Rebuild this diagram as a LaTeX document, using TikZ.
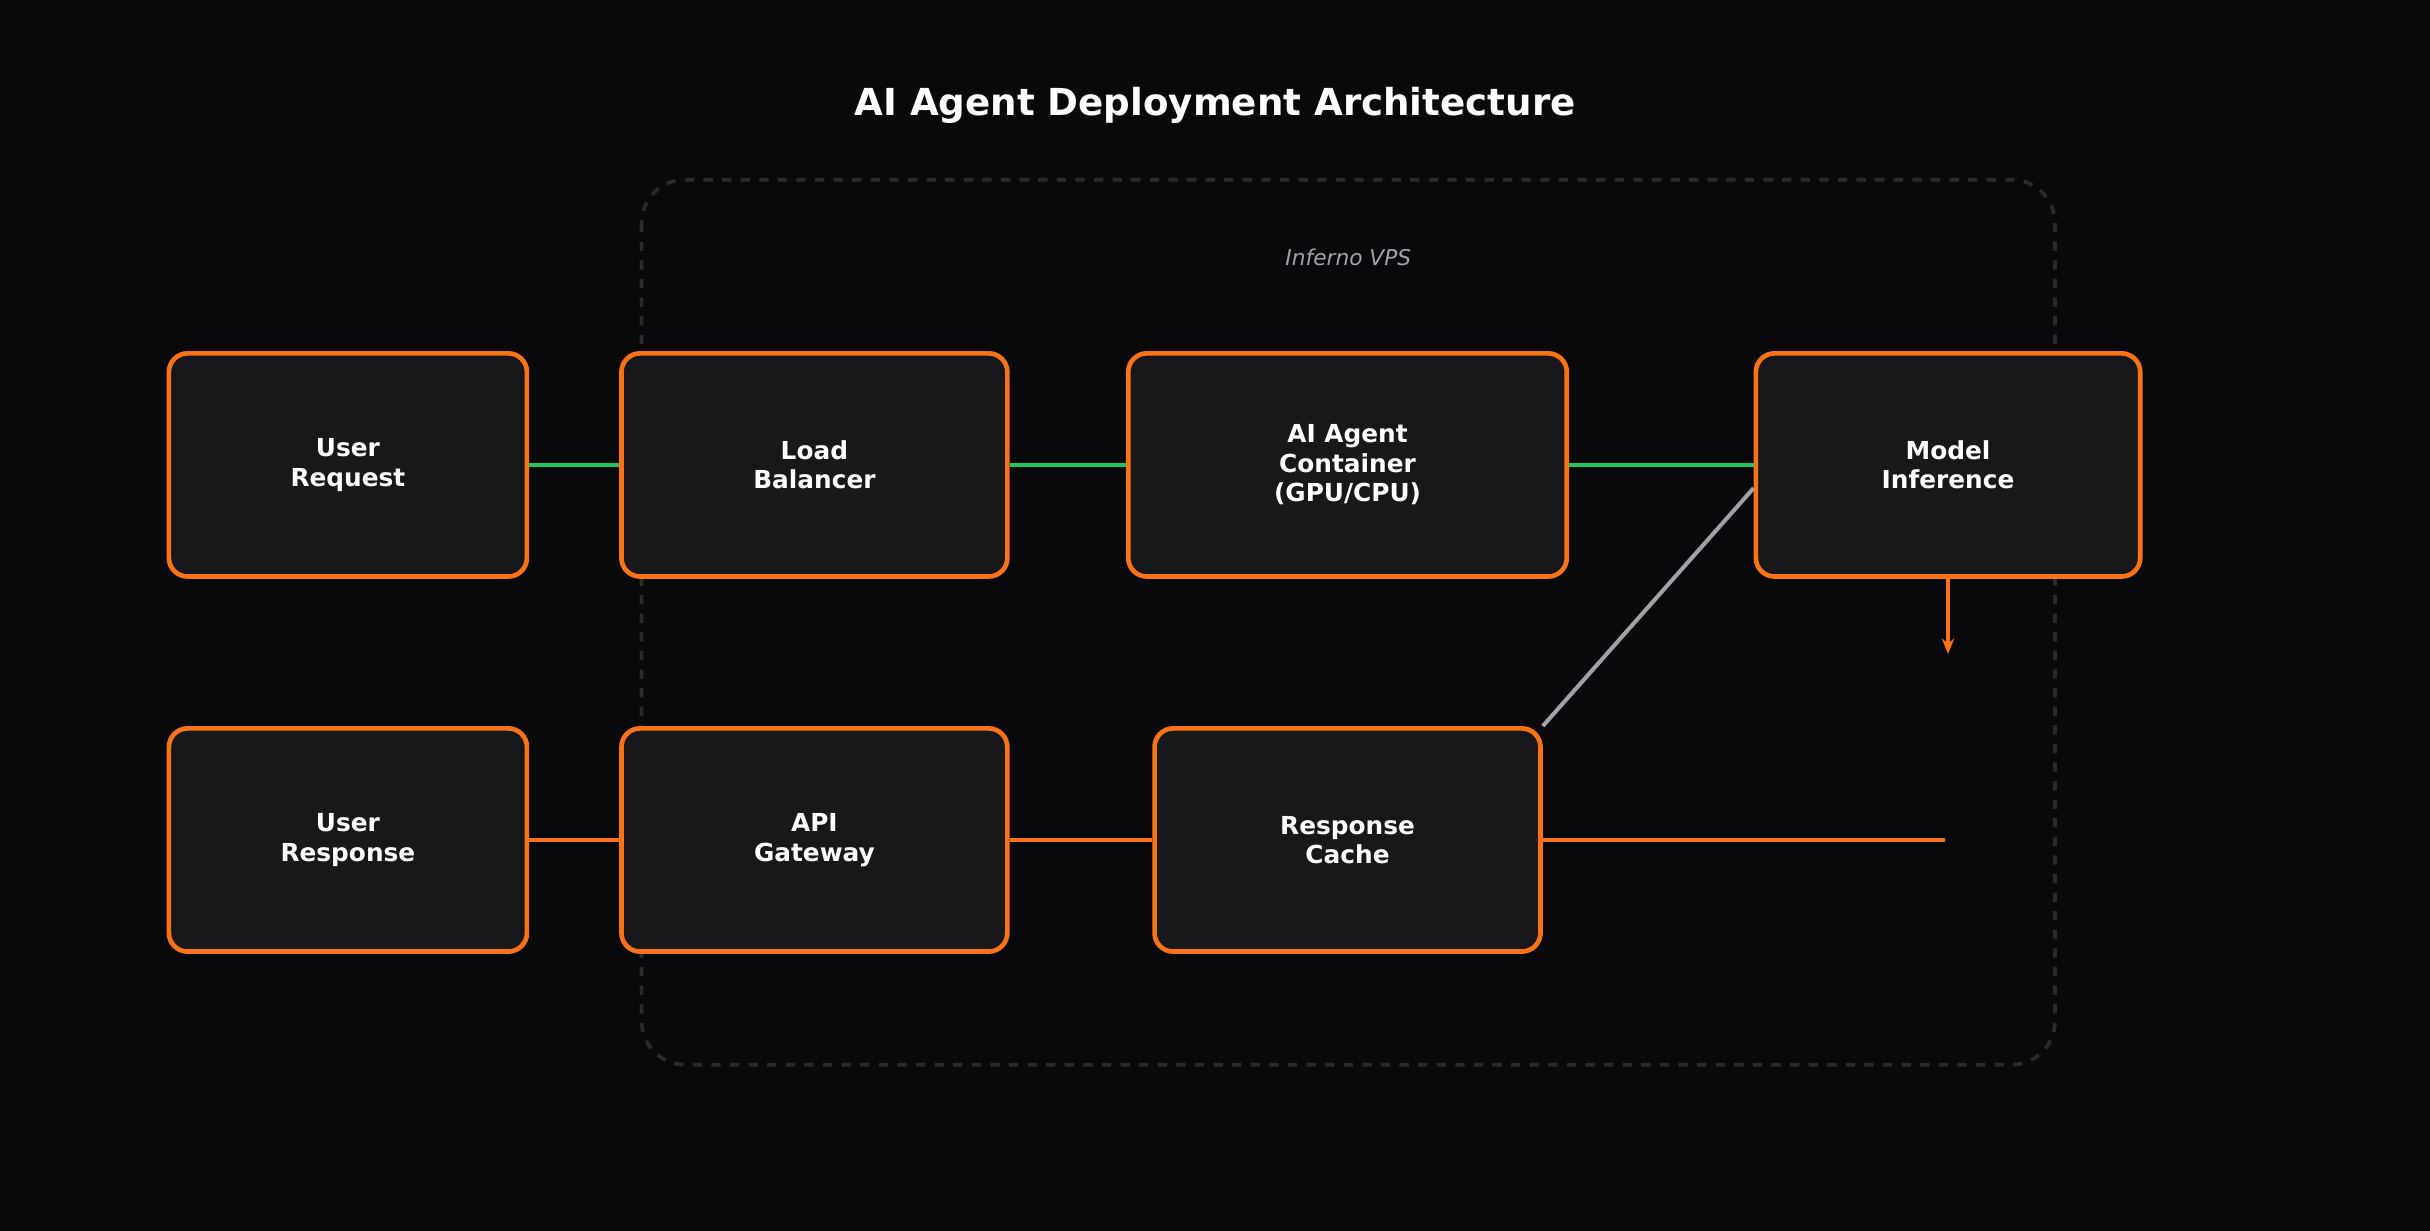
\documentclass[tikz,border=0pt]{standalone}
\usepackage{fontspec}
\setmainfont{DejaVu Sans}
\usetikzlibrary{arrows.meta,calc}
\definecolor{bg}{HTML}{09090B}
\definecolor{nodefill}{HTML}{18181B}
\definecolor{org}{HTML}{F97316}
\definecolor{grn}{HTML}{22C55E}
\definecolor{dashc}{HTML}{2A2A2E}
\definecolor{gry}{HTML}{A1A1AA}
\begin{document}
\begin{tikzpicture}[x=0.5pt,y=-0.5pt,
  box/.style={draw=org,fill=nodefill,line width=1.5pt,rounded corners=6pt,inner sep=0pt,text=white,font=\bfseries\fontsize{8}{9.5}\selectfont,align=center},
  gline/.style={draw=grn,line width=1.5pt},
  oline/.style={draw=org,line width=1.5pt}]
\fill[bg] (0,0) rectangle (1568,794);
\useasboundingbox (0,0) rectangle (1568,794);
\node[text=white,font=\bfseries\fontsize{12}{14}\selectfont] (title) at (784,68) {AI Agent Deployment Architecture};
\draw[draw=dashc,dashed,line width=1.2pt,rounded corners=14pt] (414,116) rectangle (1326,687);
\node[text=gry,font=\itshape\fontsize{7}{8}\selectfont] (vps) at (870,166) {Inferno VPS};
\newcommand{\bx}[6]{\node[box,minimum width=#4*0.5pt,minimum height=#5*0.5pt] (#1) at (#2,#3) {#6};}
\bx{ureq}{224.5}{300}{231}{144}{User\\Request}
\bx{lb}{525.5}{300}{249}{144}{Load\\Balancer}
\bx{ai}{869.5}{300}{283}{144}{AI Agent\\Container\\(GPU/CPU)}
\bx{mi}{1257}{300}{248}{144}{Model\\Inference}
\bx{ures}{224.5}{542}{231}{144}{User\\Response}
\bx{api}{525.5}{542}{249}{144}{API\\Gateway}
\bx{rc}{869.5}{542}{249}{144}{Response\\Cache}
\coordinate (end) at (1255,542);
\coordinate (arr) at (1257,422);
\draw[gline] (ureq) -- (lb);
\draw[gline] (lb) -- (ai);
\draw[gline] (ai) -- (mi);
\draw[oline] (ures) -- (api);
\draw[oline] (api) -- (rc);
\draw[oline] (rc) -- (end);
\draw[oline,-{Stealth[length=5pt,width=4pt]}] (mi) -- (arr);
\draw[gry,line width=1.3pt] (rc.north east) -- ($(mi.west)+(0,15)$);
\end{tikzpicture}
\end{document}
